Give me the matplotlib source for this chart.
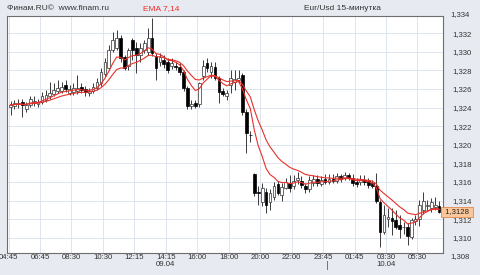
import numpy as np
import pandas as pd
import matplotlib.pyplot as plt

# 15-minute EUR/USD candles
opens = [1.3241, 1.3242, 1.3244, 1.3246, 1.3239, 1.3243, 1.3245, 1.3244, 1.3246, 1.3248,
         1.3252, 1.3255, 1.3258, 1.3258, 1.3264, 1.3256, 1.3257, 1.3258, 1.3262, 1.3260,
         1.3256, 1.3258, 1.3261, 1.3266, 1.3276, 1.3283, 1.3302, 1.3304, 1.3315, 1.3295,
         1.3285, 1.3313, 1.3304, 1.3297, 1.3302, 1.3300, 1.3315, 1.3296, 1.3289, 1.3291,
         1.3289, 1.3285, 1.3285, 1.3284, 1.3278, 1.3261, 1.3242, 1.3245, 1.3244, 1.3274,
         1.3288, 1.3278, 1.3284, 1.3272, 1.3258, 1.3253, 1.3264, 1.3268, 1.3270, 1.3275,
         1.3235, 1.3211, 1.3168, 1.3149, 1.3138, 1.3149, 1.3138, 1.3144, 1.3158, 1.3146,
         1.3154, 1.3159, 1.3156, 1.3162, 1.3161, 1.3156, 1.3152, 1.3159, 1.3163, 1.3158,
         1.3163, 1.3160, 1.3163, 1.3161, 1.3166, 1.3164, 1.3167, 1.3164, 1.3160, 1.3160,
         1.3162, 1.3161, 1.3159, 1.3156, 1.3138, 1.3106, 1.3120, 1.3121, 1.3119, 1.3114,
         1.3111, 1.3112, 1.3101, 1.3118, 1.3120, 1.3130, 1.3134, 1.3132, 1.3133, 1.3134]
highs = [1.3247, 1.3248, 1.3249, 1.3249, 1.3246, 1.3252, 1.3252, 1.3249, 1.3257, 1.3259,
         1.3268, 1.3266, 1.3270, 1.3268, 1.3270, 1.3264, 1.3266, 1.3275, 1.3266, 1.3263,
         1.3261, 1.3266, 1.3272, 1.3283, 1.3293, 1.3307, 1.3321, 1.3324, 1.3318, 1.3297,
         1.3304, 1.3315, 1.3311, 1.3309, 1.3313, 1.3326, 1.3336, 1.3299, 1.3299, 1.3297,
         1.3293, 1.3293, 1.3289, 1.3288, 1.3281, 1.3263, 1.3248, 1.3248, 1.3268, 1.3291,
         1.3293, 1.3289, 1.3289, 1.3274, 1.3261, 1.3259, 1.3281, 1.3281, 1.3281, 1.3277,
         1.3238, 1.3215, 1.3170, 1.3156, 1.3159, 1.3154, 1.3152, 1.3160, 1.3161, 1.3159,
         1.3164, 1.3167, 1.3167, 1.3171, 1.3166, 1.3159, 1.3166, 1.3167, 1.3167, 1.3166,
         1.3168, 1.3168, 1.3169, 1.3170, 1.3169, 1.3171, 1.3170, 1.3168, 1.3164, 1.3167,
         1.3167, 1.3164, 1.3162, 1.3170, 1.3141, 1.3135, 1.3132, 1.3132, 1.3130, 1.3124,
         1.3117, 1.3116, 1.3121, 1.3124, 1.3141, 1.3149, 1.3141, 1.3143, 1.3144, 1.3139]
lows = [1.3232, 1.3238, 1.3240, 1.3230, 1.3235, 1.3241, 1.3242, 1.3241, 1.3244, 1.3246,
        1.3249, 1.3253, 1.3256, 1.3256, 1.3257, 1.3254, 1.3254, 1.3255, 1.3256, 1.3253,
        1.3252, 1.3256, 1.3259, 1.3263, 1.3273, 1.3281, 1.3300, 1.3302, 1.3289, 1.3281,
        1.3281, 1.3291, 1.3277, 1.3289, 1.3299, 1.3297, 1.3296, 1.3270, 1.3285, 1.3283,
        1.3277, 1.3282, 1.3281, 1.3275, 1.3258, 1.3238, 1.3238, 1.3240, 1.3241, 1.3270,
        1.3278, 1.3272, 1.3270, 1.3245, 1.3253, 1.3248, 1.3256, 1.3259, 1.3266, 1.3232,
        1.3191, 1.3203, 1.3145, 1.3135, 1.3134, 1.3127, 1.3130, 1.3141, 1.3146, 1.3139,
        1.3152, 1.3149, 1.3152, 1.3158, 1.3153, 1.3148, 1.3149, 1.3156, 1.3156, 1.3156,
        1.3158, 1.3158, 1.3159, 1.3159, 1.3160, 1.3162, 1.3162, 1.3156, 1.3155, 1.3157,
        1.3157, 1.3154, 1.3154, 1.3137, 1.3090, 1.3104, 1.3112, 1.3103, 1.3109, 1.3100,
        1.3104, 1.3092, 1.3099, 1.3114, 1.3113, 1.3126, 1.3130, 1.3128, 1.3130, 1.3127]
closes = [1.3243, 1.3245, 1.3245, 1.3243, 1.3243, 1.3249, 1.3247, 1.3246, 1.3252, 1.3254,
          1.3256, 1.3259, 1.3261, 1.3262, 1.3260, 1.3260, 1.3261, 1.3261, 1.3259, 1.3257,
          1.3258, 1.3262, 1.3268, 1.3278, 1.3289, 1.3302, 1.3313, 1.3315, 1.3293, 1.3283,
          1.3302, 1.3302, 1.3297, 1.3304, 1.3309, 1.3315, 1.3299, 1.3283, 1.3295, 1.3287,
          1.3281, 1.3288, 1.3284, 1.3278, 1.3261, 1.3242, 1.3244, 1.3242, 1.3266, 1.3285,
          1.3283, 1.3285, 1.3272, 1.3257, 1.3255, 1.3256, 1.3272, 1.3271, 1.3272, 1.3235,
          1.3213, 1.3210, 1.3148, 1.3148, 1.3154, 1.3135, 1.3148, 1.3156, 1.3148, 1.3155,
          1.3160, 1.3154, 1.3161, 1.3164, 1.3157, 1.3152, 1.3162, 1.3163, 1.3159, 1.3162,
          1.3160, 1.3163, 1.3161, 1.3166, 1.3163, 1.3167, 1.3164, 1.3159, 1.3158, 1.3162,
          1.3160, 1.3157, 1.3156, 1.3139, 1.3106, 1.3124, 1.3122, 1.3118, 1.3112, 1.3109,
          1.3112, 1.3102, 1.3119, 1.3120, 1.3135, 1.3139, 1.3135, 1.3138, 1.3135, 1.3128]

time_labels = ['04:45', '06:45', '08:30', '10:30', '12:15', '14:15', '16:00',
               '18:00', '20:00', '22:00', '23:45', '01:45', '03:30', '05:30']
date_labels = {'14:15': '09.04', '03:30': '10.04'}
price_ticks = [1.310, 1.312, 1.314, 1.316, 1.318, 1.320, 1.322,
               1.324, 1.326, 1.328, 1.330, 1.332]
outer_ticks = [1.334, 1.308]
ema_spans = [7, 14]

bg = '#e7ebf1'
fs = 5.6
fam = 'Liberation Sans'
fig = plt.figure(figsize=(4.8, 2.75), dpi=100, facecolor=bg)
ax = fig.add_axes([7 / 480, 1 - 253 / 275, 436 / 480, 237 / 275])
ax.set_facecolor('white')

o = np.array(opens)
c = np.array(closes)
x = np.arange(len(c))
up = c >= o
bottom = np.minimum(o, c)
height = np.maximum(np.abs(c - o), 0.00006)

ax.vlines(x, lows, highs, color='#3a3a3a', lw=0.7, zorder=2)
ax.bar(x[up], height[up], bottom=bottom[up], width=0.7, color='white',
       edgecolor='#303030', lw=0.5, zorder=3)
ax.bar(x[~up], height[~up], bottom=bottom[~up], width=0.7, color='black',
       edgecolor='black', lw=0.5, zorder=3)

# EMA 7 and 14 on closes
s = pd.Series(closes)
for span in ema_spans:
    ax.plot(x, s.ewm(span=span, adjust=False).mean(), color='#e8302a', lw=0.8, zorder=4)

ax.set_xlim(-0.9, 110)
ax.set_ylim(1.30835, 1.33386)

tick_pos = [8 * k - 0.5 for k in range(len(time_labels))]
ax.set_xticks(tick_pos)
ax.set_xticklabels([t + '\n' + date_labels[t] if t in date_labels else t
                    for t in time_labels])
ax.set_yticks(price_ticks)
ax.set_yticklabels([('%.3f' % v).replace('.', ',') for v in price_ticks])
ax.yaxis.tick_right()
ax.tick_params(axis='x', length=0, pad=1, labelsize=fs, colors='#333333')
ax.tick_params(axis='y', length=0, pad=7, labelsize=fs, colors='#333333')
for lab in ax.get_xticklabels() + ax.get_yticklabels():
    lab.set_fontfamily(fam)
    lab.set_linespacing(1.0)
ax.grid(True, color='#dfe5ee', lw=0.7, zorder=0)
for sp in ax.spines.values():
    sp.set_color('#6e6e6e')
    sp.set_linewidth(0.8)

ytr = ax.get_yaxis_transform()
for v in outer_ticks:
    ax.annotate(('%.3f' % v).replace('.', ','), xy=(1.0, v), xycoords=ytr,
                xytext=(7, 0), textcoords='offset pixels', fontsize=fs, family=fam,
                color='#333333', ha='left', va='center', annotation_clip=False)

# last price marker
ax.text(1.0, closes[-1], (' %.4f ' % closes[-1]).replace('.', ','), transform=ytr,
        fontsize=fs, family=fam, color='#222222', ha='left', va='center',
        bbox=dict(boxstyle='square,pad=0.2', fc='#f9c79a', ec='#e0894a', lw=0.6),
        clip_on=False)

# day break marker under the axis
ax.annotate('|', xy=(80.7, 1.30835), xycoords='data', xytext=(0, -8),
            textcoords='offset pixels', fontsize=fs, color='#333333',
            ha='center', va='top', annotation_clip=False)

fig.text(7 / 480, 1 - 9 / 275, 'Финам.RU©  www.finam.ru', fontsize=6,
         family=fam, color='#333333', va='center')
fig.text(143 / 480, 1 - 9 / 275, 'EMA 7,14', fontsize=6, family=fam,
         color='#e8302a', va='center')
fig.text(342 / 480, 1 - 9 / 275, 'Eur/Usd 15-минутка', fontsize=6,
         family=fam, color='#333333', va='center', ha='center')

fig.savefig('out.png', dpi=100, facecolor=bg)
